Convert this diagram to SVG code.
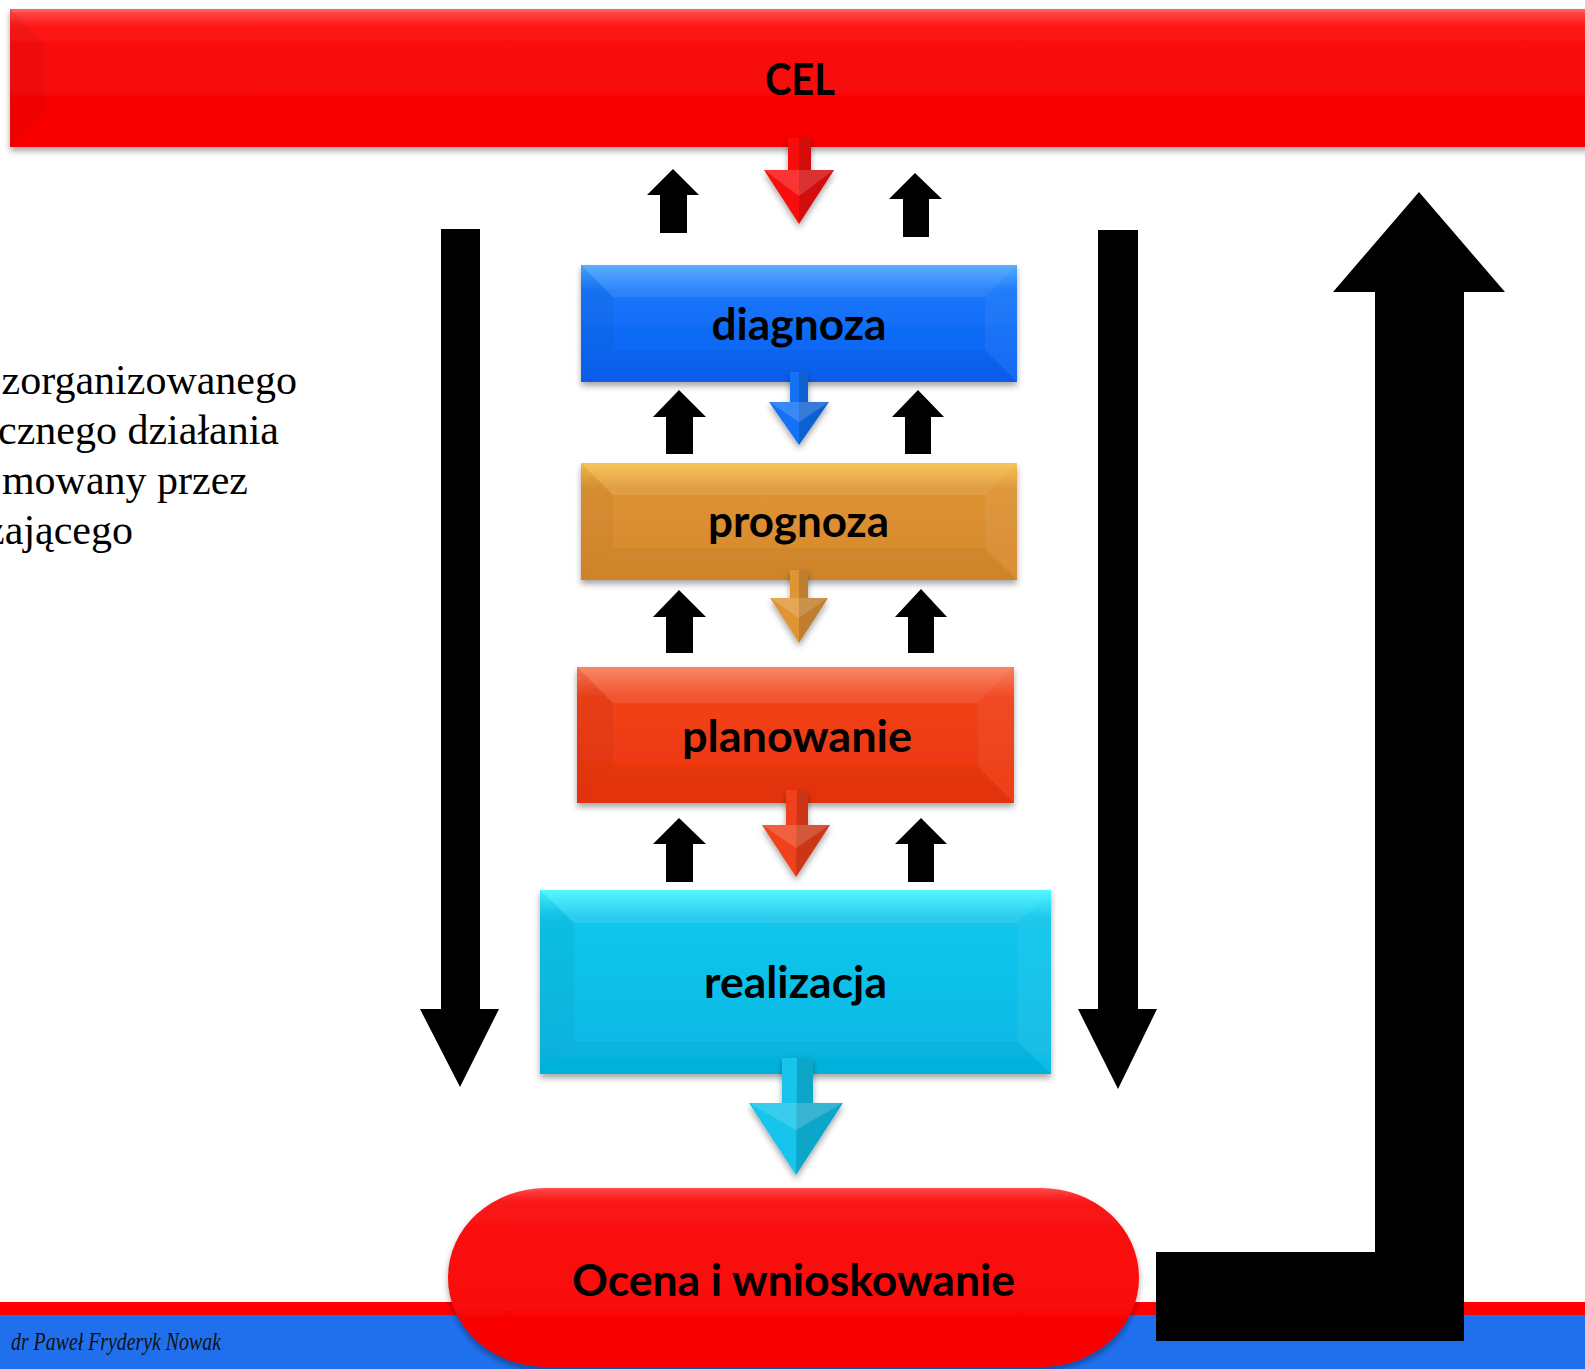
<svg xmlns="http://www.w3.org/2000/svg" width="1585" height="1369" viewBox="0 0 1585 1369">
<style>
.lbl{font-family:Lato,"Open Sans","Noto Sans",sans-serif;font-weight:bold;font-size:44px;fill:#000;text-anchor:middle}
.side{font-family:"Liberation Serif","Times New Roman",serif;font-size:42px;fill:#000;text-anchor:end}
.auth{font-family:"Liberation Serif","Times New Roman",serif;font-style:italic;font-size:25px;fill:#111}
.bt{fill:#fff;opacity:.1}
.bb{fill:#000;opacity:.035}
.bl{fill:#000;opacity:.04}
.br{fill:#fff;opacity:.05}
.blk{fill:#000}
.shade{fill:#000;opacity:.15}
.hi{fill:#fff;opacity:.16}
</style>
<defs>
<filter id="sh" x="-10%" y="-10%" width="120%" height="130%">
<feDropShadow dx="0" dy="4" stdDeviation="3" flood-color="#000" flood-opacity=".35"/>
</filter>
<linearGradient id="gCel" x1="0" y1="0" x2="0" y2="1">
<stop offset="0" stop-color="#FF5050"/><stop offset=".12" stop-color="#FF1A1A"/><stop offset=".3" stop-color="#F80C0C"/><stop offset="1" stop-color="#F80000"/>
</linearGradient>
<linearGradient id="gDia" x1="0" y1="0" x2="0" y2="1">
<stop offset="0" stop-color="#4AA6FF"/><stop offset=".22" stop-color="#1676FA"/><stop offset="1" stop-color="#0A60F2"/>
</linearGradient>
<linearGradient id="gPro" x1="0" y1="0" x2="0" y2="1">
<stop offset="0" stop-color="#F8BE48"/><stop offset=".22" stop-color="#DE9333"/><stop offset="1" stop-color="#D6882C"/>
</linearGradient>
<linearGradient id="gPla" x1="0" y1="0" x2="0" y2="1">
<stop offset="0" stop-color="#F87A55"/><stop offset=".22" stop-color="#F0421A"/><stop offset="1" stop-color="#EC340C"/>
</linearGradient>
<linearGradient id="gRea" x1="0" y1="0" x2="0" y2="1">
<stop offset="0" stop-color="#45F6FF"/><stop offset=".15" stop-color="#12C6EC"/><stop offset="1" stop-color="#05B8E4"/>
</linearGradient>
<linearGradient id="gOce" x1="0" y1="0" x2="0" y2="1">
<stop offset="0" stop-color="#FF4A4A"/><stop offset=".08" stop-color="#FA1414"/><stop offset="1" stop-color="#F80000"/>
</linearGradient>
</defs>
<rect x="0" y="0" width="1585" height="1369" fill="#fff"/>
<g id="footer">
<rect x="0" y="1302" width="1585" height="14" fill="#FF0000"/>
<rect x="0" y="1315" width="1585" height="54" fill="#2070EE"/>
<text class="auth" x="11" y="1350" textLength="210" lengthAdjust="spacingAndGlyphs">dr Paweł Fryderyk Nowak</text>
</g>
<g id="side-text">
<text class="side" x="297" y="394">zorganizowanego</text>
<text class="side" x="279" y="444">cznego działania</text>
<text class="side" x="248" y="494">mowany przez</text>
<text class="side" x="133" y="544">zającego</text>
</g>
<g id="connectors">
<polygon class="blk" points="441,229 480,229 480,1009 499,1009 460,1087 420,1009 441,1009"/>
<polygon class="blk" points="1098,230 1138,230 1138,1009 1157,1009 1118,1089 1078,1009 1098,1009"/>
<polygon class="blk" points="1419,192 1505,292 1464,292 1464,1341 1156,1341 1156,1252 1375,1252 1375,292 1333,292"/>
<polygon class="blk" points="673,169 699,195 687,195 687,233 660,233 660,195 647,195"/>
<polygon class="blk" points="915,173 942,199 929,199 929,237 903,237 903,199 889,199"/>
<polygon class="blk" points="679,390 706,417 693,417 693,454 666,454 666,417 653,417"/>
<polygon class="blk" points="918,390 944,417 931,417 931,454 905,454 905,417 892,417"/>
<polygon class="blk" points="679,590 706,617 693,617 693,653 666,653 666,617 653,617"/>
<polygon class="blk" points="921,589 947,617 934,617 934,653 908,653 908,617 895,617"/>
<polygon class="blk" points="679,818 706,844 693,844 693,882 666,882 666,844 653,844"/>
<polygon class="blk" points="921,818 947,844 934,844 934,882 908,882 908,844 895,844"/>
</g>
<g id="n-cel">
<rect x="10" y="9" width="1590" height="138" fill="url(#gCel)" filter="url(#sh)"/>
<polygon class="bl" points="10,9 45,44 45,112 10,147"/>
<polygon class="bt" points="10,9 1585,9 1585,12 13,12"/>
<text class="lbl" x="800" y="95" textLength="70" lengthAdjust="spacingAndGlyphs">CEL</text>
</g>
<g id="n-diagnoza">
<rect x="581" y="265" width="436" height="117" fill="url(#gDia)" filter="url(#sh)"/>
<polygon class="bt" points="581,265 1017,265 985,297 613,297"/>
<polygon class="bb" points="581,382 1017,382 985,350 613,350"/>
<polygon class="bl" points="581,265 613,297 613,350 581,382"/>
<polygon class="br" points="1017,265 985,297 985,350 1017,382"/>
<text class="lbl" x="799" y="340" textLength="175" lengthAdjust="spacingAndGlyphs">diagnoza</text>
</g>
<g id="n-prognoza">
<rect x="581" y="463" width="436" height="117" fill="url(#gPro)" filter="url(#sh)"/>
<polygon class="bt" points="581,463 1017,463 985,495 613,495"/>
<polygon class="bb" points="581,580 1017,580 985,548 613,548"/>
<polygon class="bl" points="581,463 613,495 613,548 581,580"/>
<polygon class="br" points="1017,463 985,495 985,548 1017,580"/>
<text class="lbl" x="798.5" y="537" textLength="181" lengthAdjust="spacingAndGlyphs">prognoza</text>
</g>
<g id="n-planowanie">
<rect x="577" y="667" width="437" height="136" fill="url(#gPla)" filter="url(#sh)"/>
<polygon class="bt" points="577,667 1014,667 978,703 613,703"/>
<polygon class="bb" points="577,803 1014,803 978,767 613,767"/>
<polygon class="bl" points="577,667 613,703 613,767 577,803"/>
<polygon class="br" points="1014,667 978,703 978,767 1014,803"/>
<text class="lbl" x="797" y="752" textLength="230" lengthAdjust="spacingAndGlyphs">planowanie</text>
</g>
<g id="n-realizacja">
<rect x="540" y="890" width="511" height="184" fill="url(#gRea)" filter="url(#sh)"/>
<polygon class="bt" points="540,890 1051,890 1017,923 574,923"/>
<polygon class="bb" points="540,1074 1051,1074 1017,1041 574,1041"/>
<polygon class="bl" points="540,890 574,923 574,1041 540,1074"/>
<polygon class="br" points="1051,890 1017,923 1017,1041 1051,1074"/>
<text class="lbl" x="795.5" y="998" textLength="183" lengthAdjust="spacingAndGlyphs">realizacja</text>
</g>
<g id="n-ocena">
<rect x="448" y="1188" width="691" height="179" rx="98" ry="89" fill="url(#gOce)" filter="url(#sh)"/>
<text class="lbl" x="793.5" y="1296" textLength="443" lengthAdjust="spacingAndGlyphs">Ocena i wnioskowanie</text>
</g>
<g id="flow-arrows" filter="url(#sh)">
<g>
<polygon fill="#F80E0E" points="788,138 811,138 811,170 834,170 799,224 764,170 788,170"/>
<polygon class="shade" points="799,138 811,138 811,170 834,170 799,224"/>
<polygon class="hi" points="764,170 834,170 799,196"/>
</g>
<g>
<polygon fill="#1472F5" points="790,372 808,372 808,402 829,402 799,445 769,402 790,402"/>
<polygon class="shade" points="799,372 808,372 808,402 829,402 799,445"/>
<polygon class="hi" points="769,402 829,402 799,422"/>
</g>
<g>
<polygon fill="#E09535" points="790,570 808,570 808,598 828,598 799,643 770,598 790,598"/>
<polygon class="shade" points="799,570 808,570 808,598 828,598 799,643"/>
<polygon class="hi" points="770,598 828,598 799,618"/>
</g>
<g>
<polygon fill="#F0401A" points="786,790 808,790 808,825 830,825 796,877 762,825 786,825"/>
<polygon class="shade" points="797,790 808,790 808,825 830,825 796,877"/>
<polygon class="hi" points="762,825 830,825 796,848"/>
</g>
<g>
<polygon fill="#14C4EC" points="782,1058 813,1058 813,1103 843,1103 796,1175 749,1103 782,1103"/>
<polygon class="shade" points="797,1058 813,1058 813,1103 843,1103 796,1175"/>
<polygon class="hi" points="749,1103 843,1103 796,1130"/>
</g>
</g>
</svg>
